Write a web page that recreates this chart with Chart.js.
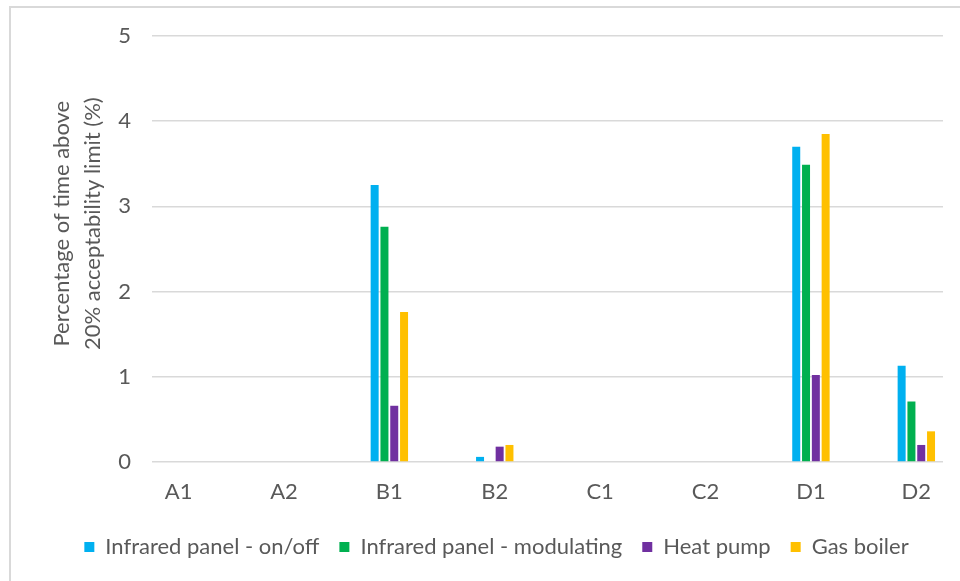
<!DOCTYPE html>
<html>
<head>
<meta charset="utf-8">
<script src="https://cdn.jsdelivr.net/npm/chart.js@4/dist/chart.umd.min.js"></script>
<style>
  html, body { margin: 0; padding: 0; background: #ffffff; overflow: hidden; }
  #wrap { position: relative; width: 960px; height: 581px; }
  #frame { position: absolute; left: 9px; top: 6px; width: 1000px; height: 600px;
           border: 2px solid #d9d9d9; box-sizing: border-box; pointer-events: none; }
  canvas { position: absolute; left: 0; top: 0; }
</style>
</head>
<body>
<div id="wrap">
  <canvas id="chart" width="960" height="581"></canvas>
  <div id="frame"></div>
</div>
<script>
// Building cases
const categories = ['A1', 'A2', 'B1', 'B2', 'C1', 'C2', 'D1', 'D2'];

// Percentage of time above the 20% acceptability limit, per heating system
const infraredOnOff      = [0, 0, 3.25, 0.06, 0, 0, 3.70, 1.13];
const infraredModulating = [0, 0, 2.76, 0,    0, 0, 3.49, 0.71];
const heatPump           = [0, 0, 0.66, 0.18, 0, 0, 1.02, 0.20];
const gasBoiler          = [0, 0, 1.76, 0.20, 0, 0, 3.85, 0.36];

const seriesNames = ['Infrared panel - on/off', 'Infrared panel - modulating', 'Heat pump', 'Gas boiler'];
const yTicks = [0, 1, 2, 3, 4, 5];
const yTitle = ['Percentage of time above', '20% acceptability limit (%)'];

const colors = ['#00B0F0', '#00B050', '#7030A0', '#FFC000'];
const textColor = '#595959';
const fontFamily = 'Lato, "Open Sans", sans-serif';

const toPoints = arr => arr.map((v, i) => ({ x: i, y: v }));
const seriesValues = [infraredOnOff, infraredModulating, heatPump, gasBoiler];

new Chart(document.getElementById('chart'), {
  type: 'bar',
  data: {
    datasets: seriesValues.map((vals, k) => ({
      label: seriesNames[k],
      data: toPoints(vals),
      backgroundColor: colors[k],
      borderWidth: 0,
      categoryPercentage: 0.372,
      barPercentage: 0.816
    }))
  },
  options: {
    responsive: false,
    animation: false,
    layout: { padding: { left: 50, top: 36, right: 17, bottom: 13 } },
    scales: {
      x: {
        type: 'linear',
        offset: false,
        min: -0.252,
        max: 7.253,
        grid: { display: false },
        border: { display: false },
        afterBuildTicks: s => { s.ticks = categories.map((_, i) => ({ value: i })); },
        afterFit: s => { s.height = 54; },
        ticks: {
          autoSkip: false,
          maxRotation: 0,
          padding: 9,
          color: textColor,
          font: { family: fontFamily, size: 22 },
          callback: v => categories[v]
        }
      },
      y: {
        min: 0,
        max: 5,
        afterBuildTicks: s => { s.ticks = yTicks.map(v => ({ value: v })); },
        afterFit: s => { s.width = 102; },
        grid: { color: '#d9d9d9', lineWidth: 1.5, drawTicks: false },
        border: { display: false },
        ticks: {
          padding: 21,
          color: textColor,
          font: { family: fontFamily, size: 22 }
        },
        title: {
          display: true,
          // leading spaces lift the centred title slightly above the plot middle
          text: yTitle.map(s => ' '.repeat(9) + s),
          color: textColor,
          font: { family: fontFamily, size: 22, lineHeight: 1.4 },
          padding: { top: -3, bottom: 0 }
        }
      }
    },
    plugins: {
      legend: {
        position: 'bottom',
        labels: {
          boxWidth: 10,
          boxHeight: 10,
          padding: 20,
          color: textColor,
          font: { family: fontFamily, size: 22 }
        }
      },
      tooltip: { enabled: false }
    }
  }
});
</script>
</body>
</html>
